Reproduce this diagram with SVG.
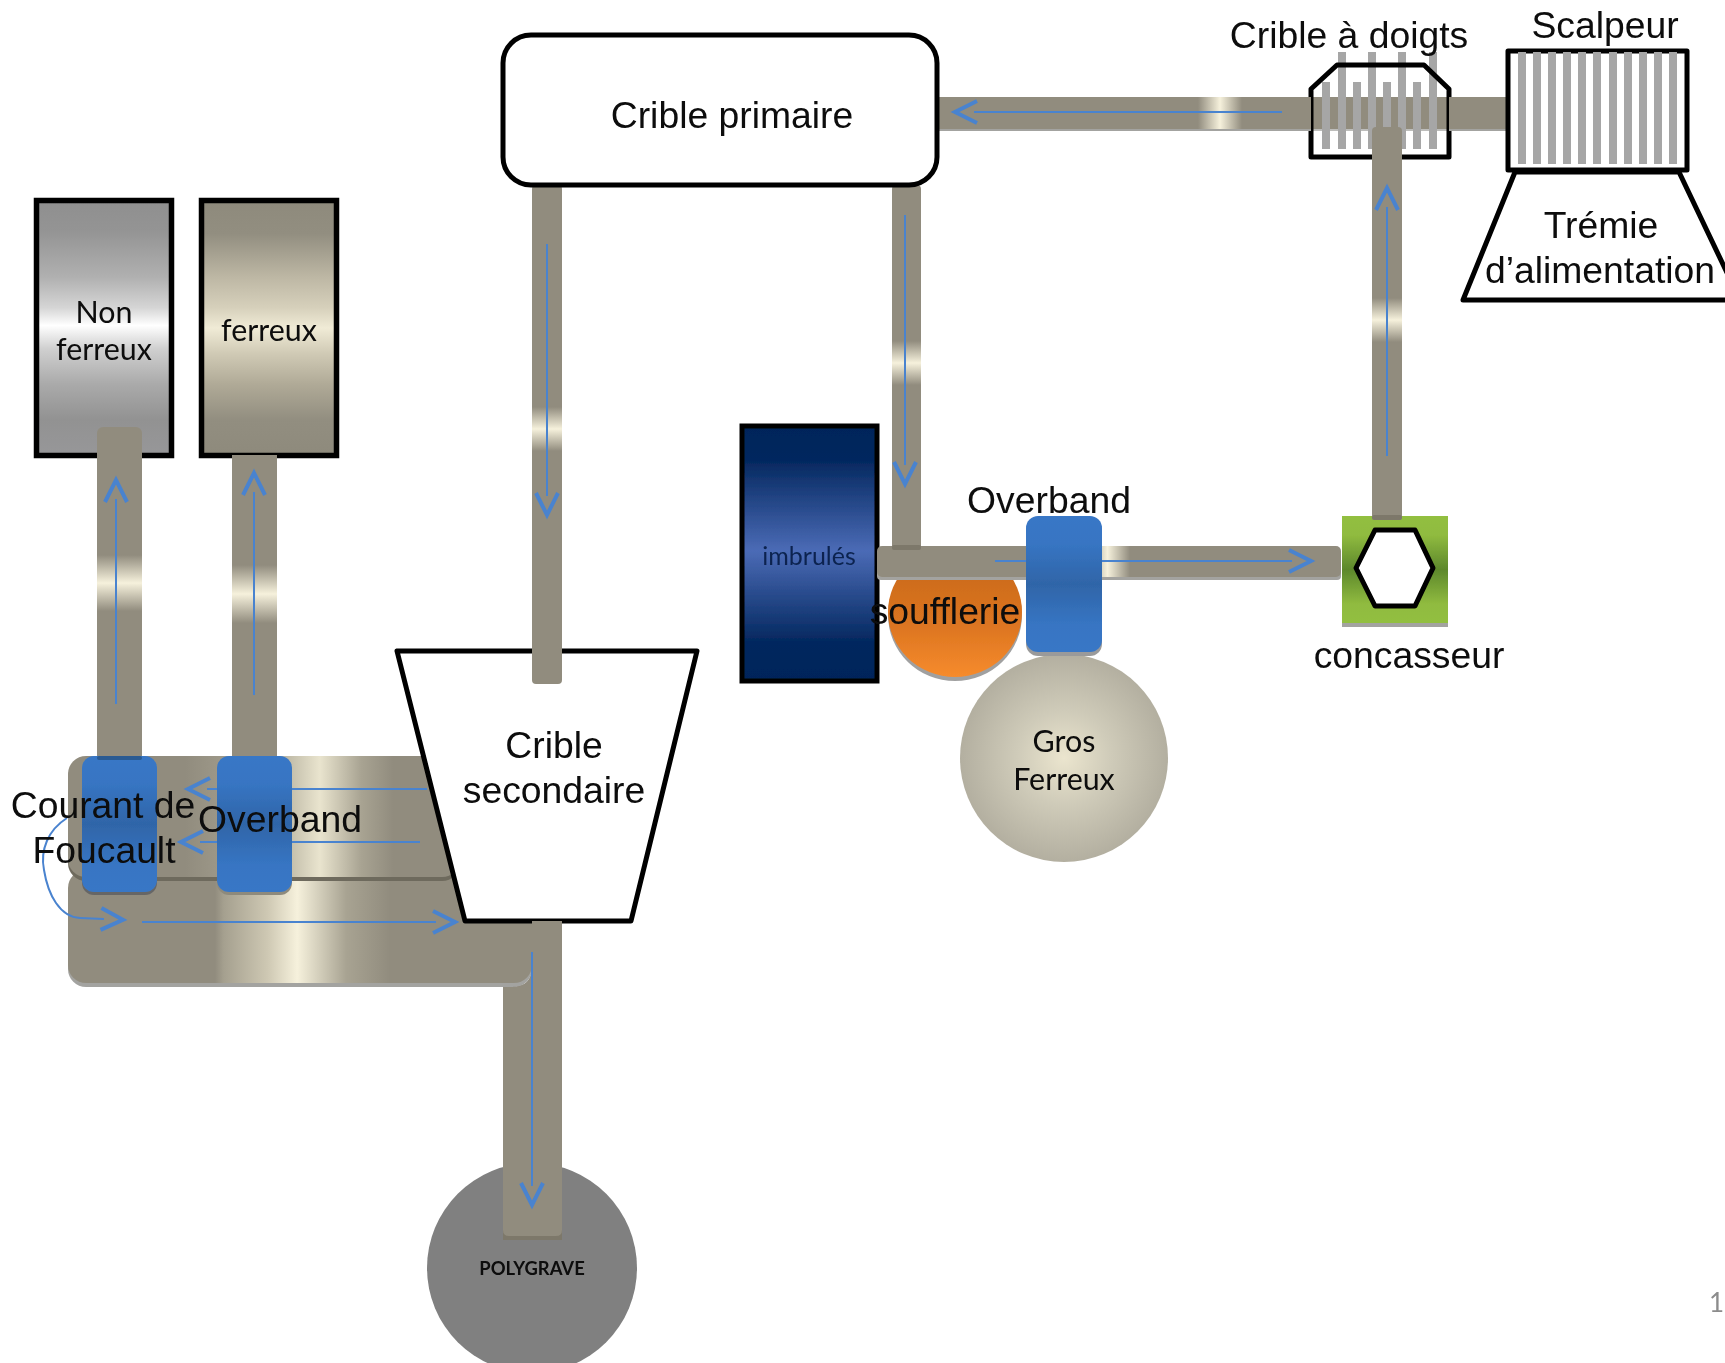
<svg xmlns="http://www.w3.org/2000/svg" width="1725" height="1363" viewBox="0 0 1725 1363">
<style>
text{font-family:"Liberation Sans",Arial,sans-serif;font-size:37.3px;fill:#0a0a0a;text-anchor:middle}
.cal{font-family:Lato,"Open Sans",sans-serif;font-size:30.4px}
.out{fill:#fff;stroke:#000;stroke-width:5;stroke-linejoin:round}
.bar{fill:#a6a6a6}
.belt{fill:#918c7e}
.shadow{fill:#a3a3a0}
.flow{fill:none;stroke:#4a83cf;stroke-width:2}
.chev{fill:none;stroke:#4a83cf;stroke-width:4}
</style>
<defs>
<filter id="soft" filterUnits="userSpaceOnUse" x="0" y="0" width="1725" height="1363"><feGaussianBlur stdDeviation="0.6"/></filter>
<marker id="arrow" markerUnits="userSpaceOnUse" markerWidth="60" markerHeight="40" refX="10" refY="20" orient="auto" overflow="visible"><path class="chev" d="M7 9L29 20L7 31"/></marker>
<linearGradient id="gSilver" x1="0" y1="0" x2="0" y2="1"><stop offset="0" stop-color="#8f8f8f"/><stop offset=".12" stop-color="#949494"/><stop offset=".3" stop-color="#b0b0b0"/><stop offset=".42" stop-color="#d5d5d5"/><stop offset=".49" stop-color="#fff"/><stop offset=".58" stop-color="#d0d0d0"/><stop offset=".72" stop-color="#aaa"/><stop offset=".86" stop-color="#929292"/><stop offset="1" stop-color="#979799"/></linearGradient>
<linearGradient id="gBronze" x1="0" y1="0" x2="0" y2="1"><stop offset="0" stop-color="#8e8a7c"/><stop offset=".13" stop-color="#928e80"/><stop offset=".3" stop-color="#bdb7a4"/><stop offset=".42" stop-color="#d6d0bb"/><stop offset=".5" stop-color="#f0ebd6"/><stop offset=".6" stop-color="#d0cab5"/><stop offset=".72" stop-color="#b0aa97"/><stop offset=".86" stop-color="#928e80"/><stop offset="1" stop-color="#8e8a7c"/></linearGradient>
<linearGradient id="gNavy" x1="0" y1="0" x2="0" y2="1"><stop offset="0" stop-color="#00245a"/><stop offset=".13" stop-color="#03275e"/><stop offset=".49" stop-color="#4b6bb6"/><stop offset=".85" stop-color="#03275e"/><stop offset="1" stop-color="#00245a"/></linearGradient>
<linearGradient id="gBlue" x1="0" y1="0" x2="0" y2="1"><stop offset="0" stop-color="#3977c6"/><stop offset=".2" stop-color="#3775c3"/><stop offset=".5" stop-color="#2f65a8"/><stop offset=".8" stop-color="#3775c3"/><stop offset="1" stop-color="#3977c6"/></linearGradient>
<linearGradient id="gOrange" x1="0" y1="0" x2="0" y2="1"><stop offset="0" stop-color="#c4661d"/><stop offset=".6" stop-color="#dc7520"/><stop offset="1" stop-color="#f68b2d"/></linearGradient>
<linearGradient id="gGreen" x1="0" y1="0" x2="0" y2="1"><stop offset="0" stop-color="#92bf3f"/><stop offset=".18" stop-color="#90bb3f"/><stop offset=".5" stop-color="#5d882c"/><stop offset=".82" stop-color="#90bb3f"/><stop offset="1" stop-color="#92bf3f"/></linearGradient>
<radialGradient id="gBeige"><stop offset="0" stop-color="#ebe5ce"/><stop offset=".45" stop-color="#cfcbb9"/><stop offset="1" stop-color="#b3afa0"/></radialGradient>
<linearGradient id="gUpper" gradientUnits="userSpaceOnUse" x1="185" y1="0" x2="430" y2="0"><stop offset="0" stop-color="#918c7e"/><stop offset=".2" stop-color="#a19c8c"/><stop offset=".4" stop-color="#bab5a2"/><stop offset=".55" stop-color="#e9e4ce"/><stop offset=".72" stop-color="#a8a392"/><stop offset=".85" stop-color="#918c7e"/><stop offset="1" stop-color="#918c7e"/></linearGradient>
<linearGradient id="gLower" gradientUnits="userSpaceOnUse" x1="215" y1="0" x2="390" y2="0"><stop offset="0" stop-color="#918c7e"/><stop offset=".05" stop-color="#a5a08f"/><stop offset=".3" stop-color="#cec8b3"/><stop offset=".47" stop-color="#f6f1dc"/><stop offset=".75" stop-color="#a8a392"/><stop offset="1" stop-color="#918c7e"/></linearGradient>
<linearGradient id="hTop" gradientUnits="userSpaceOnUse" x1="1198" y1="0" x2="1242" y2="0"><stop offset="0" stop-color="#918c7e"/><stop offset=".5" stop-color="#f6f1dc"/><stop offset="1" stop-color="#918c7e"/></linearGradient>
<linearGradient id="hMid" gradientUnits="userSpaceOnUse" x1="1085" y1="0" x2="1130" y2="0"><stop offset="0" stop-color="#918c7e"/><stop offset=".5" stop-color="#f6f1dc"/><stop offset="1" stop-color="#918c7e"/></linearGradient>
<linearGradient id="vCrush" gradientUnits="userSpaceOnUse" x1="0" y1="298" x2="0" y2="342"><stop offset="0" stop-color="#918c7e"/><stop offset=".5" stop-color="#f6f1dc"/><stop offset="1" stop-color="#918c7e"/></linearGradient>
<linearGradient id="vRight" gradientUnits="userSpaceOnUse" x1="0" y1="341" x2="0" y2="385"><stop offset="0" stop-color="#918c7e"/><stop offset=".5" stop-color="#f6f1dc"/><stop offset="1" stop-color="#918c7e"/></linearGradient>
<linearGradient id="vPrim" gradientUnits="userSpaceOnUse" x1="0" y1="407" x2="0" y2="451"><stop offset="0" stop-color="#918c7e"/><stop offset=".5" stop-color="#f6f1dc"/><stop offset="1" stop-color="#918c7e"/></linearGradient>
<linearGradient id="vL1" gradientUnits="userSpaceOnUse" x1="0" y1="555" x2="0" y2="611"><stop offset="0" stop-color="#918c7e"/><stop offset=".5" stop-color="#f6f1dc"/><stop offset="1" stop-color="#918c7e"/></linearGradient>
<linearGradient id="vL2" gradientUnits="userSpaceOnUse" x1="0" y1="565" x2="0" y2="623"><stop offset="0" stop-color="#918c7e"/><stop offset=".5" stop-color="#f6f1dc"/><stop offset="1" stop-color="#918c7e"/></linearGradient>
</defs>
<rect width="1725" height="1363" fill="#fff"/>
<g filter="url(#soft)">
<g id="polygrave"><circle cx="532" cy="1268" r="105" fill="#808080"/><text x="532" y="1275" style="font-family:Lato,'Open Sans',sans-serif;font-size:18.4px;font-weight:700">POLYGRAVE</text></g>
<g id="gros-ferreux"><circle cx="1064" cy="758" r="104" fill="url(#gBeige)"/><text class="cal" x="1064" y="752">Gros</text><text class="cal" x="1064" y="790">Ferreux</text></g>
<g id="imbrules"><rect x="742" y="426" width="135" height="255" fill="url(#gNavy)" stroke="#000" stroke-width="5"/><text class="cal" x="809" y="565" style="font-size:25px;fill:#0b2450">imbrulés</text></g>
<g id="soufflerie"><ellipse cx="955" cy="615" rx="67" ry="66" fill="#a0a0a0"/><ellipse cx="955" cy="612" rx="67" ry="65" fill="url(#gOrange)"/><text x="945" y="624">soufflerie</text></g>
<g id="non-ferreux"><rect x="36.500" y="200.500" width="135" height="255" fill="url(#gSilver)" stroke="#000" stroke-width="5.5"/><text class="cal" x="104" y="323">Non</text><text class="cal" x="104" y="360">ferreux</text></g>
<g id="ferreux"><rect x="201.500" y="200.500" width="135" height="255" fill="url(#gBronze)" stroke="#000" stroke-width="5.5"/><text class="cal" x="269" y="341">ferreux</text></g>
<g id="bandes">
<rect x="68" y="874" width="464" height="113" rx="18" fill="#a3a3a0"/>
<rect x="68" y="870" width="464" height="113" rx="18" fill="url(#gLower)"/>
<rect x="68" y="759" width="392" height="122" rx="18" fill="#6e6a5d"/>
<rect x="68" y="756" width="392" height="121" rx="18" fill="url(#gUpper)"/>
</g>
<g id="crible-secondaire"><polygon class="out" points="397,651 697,651 631,921 465,921"/><text x="554" y="758">Crible</text><text x="554" y="803">secondaire</text></g>
<g id="concasseur"><rect x="1342" y="519" width="106" height="108" fill="#a3a3a0"/><rect x="1342" y="516" width="106" height="107" fill="url(#gGreen)"/><polygon class="out" points="1356,568 1375,530 1415,530 1433,568 1415,606 1375,606"/><text x="1409" y="668">concasseur</text></g>
<g id="crible-a-doigts"><polygon points="1311,157 1311,89 1337,65 1424,65 1449,89 1449,157" fill="#fff"/><rect class="belt" x="1311" y="97" width="138" height="32"/><rect x="1311" y="129" width="138" height="2" fill="#bdbdbb"/>
<path class="bar" d="M1322 82h8v67h-8zM1338 52h8v97h-8zM1353 82h8v67h-8zM1368 52h8v97h-8zM1383 82h8v67h-8zM1398 52h8v97h-8zM1413 82h8v67h-8zM1429 52h8v97h-8z"/>
<polygon points="1311,157 1311,89 1337,65 1424,65 1449,89 1449,157" fill="none" stroke="#000" stroke-width="5" stroke-linejoin="round"/>
<text x="1349" y="48">Crible à doigts</text></g>
<g id="connectors">
<g id="belts">
<rect class="shadow" x="937" y="100" width="374" height="31"/><rect x="937" y="97" width="374" height="32" fill="url(#hTop)"/>
<rect class="shadow" x="1449" y="100" width="58" height="31"/><rect class="belt" x="1449" y="97" width="58" height="32"/>
<rect x="1372" y="127" width="30" height="392" rx="4" style="fill:url(#vCrush)"/>
<rect x="1372" y="515" width="30" height="5" rx="2" fill="#7d786a"/>
<rect x="892" y="185" width="29" height="365" rx="4" style="fill:url(#vRight)"/>
<rect class="shadow" x="877" y="550" width="464" height="30" rx="4"/><rect x="877" y="546" width="464" height="31" rx="5" style="fill:url(#hMid)"/>
<rect x="892" y="545" width="29" height="5" rx="2" fill="#7d786a"/>
<rect x="532" y="185" width="30" height="499" rx="4" style="fill:url(#vPrim)"/>
<rect x="97" y="427" width="45" height="335" rx="6" style="fill:url(#vL1)"/>
<rect x="232" y="455" width="45" height="307" style="fill:url(#vL2)"/>
<path d="M532 921H562V1240H503V987H512Q532 987 532 967Z" fill="#7d786a"/>
<path class="belt" d="M532 921H562V1230Q562 1236 556 1236H509Q503 1236 503 1230V987H512Q532 987 532 967Z"/>
</g>
<g id="flows">
<path class="flow" marker-end="url(#arrow)" d="M1282 112H974"/>
<path class="flow" marker-end="url(#arrow)" d="M1387 456V207"/>
<path class="flow" marker-end="url(#arrow)" d="M905 215V465"/>
<path class="flow" marker-end="url(#arrow)" d="M547 244V496"/>
<path class="flow" marker-end="url(#arrow)" d="M995 561H1292"/>
<path class="flow" marker-end="url(#arrow)" d="M116 704V499"/>
<path class="flow" marker-end="url(#arrow)" d="M254 695V492"/>
<path class="flow" marker-end="url(#arrow)" d="M427 789H207"/>
<path class="flow" marker-end="url(#arrow)" d="M420 842H200"/>
<path class="flow" marker-end="url(#arrow)" d="M142 922H436"/>
<path class="flow" marker-end="url(#arrow)" d="M67 818C48 830 40 850 44 870C48 895 60 917 80 918L104 919"/>
<path class="flow" marker-end="url(#arrow)" d="M532 952V1186"/>
</g>
</g>
<g id="overband-centre"><rect x="1026" y="520" width="76" height="136" rx="12" fill="#9a9a9a"/><rect x="1026" y="516" width="76" height="136" rx="12" fill="url(#gBlue)"/><text x="1049" y="513">Overband</text></g>
<g id="courant-de-foucault"><rect x="82" y="759" width="75" height="136" rx="12" fill="#666"/><rect x="82" y="756" width="75" height="136" rx="12" fill="url(#gBlue)"/><rect x="97" y="756" width="45" height="4" rx="2" fill="#2a5a92"/><text x="103" y="818">Courant de</text><text x="104" y="863">Foucault</text></g>
<g id="overband-gauche"><rect x="217" y="759" width="75" height="136" rx="12" fill="#8e8a7c"/><rect x="217" y="756" width="75" height="136" rx="12" fill="url(#gBlue)"/><text x="280" y="832">Overband</text></g>
<g id="crible-primaire"><rect class="out" x="503" y="35" width="434" height="150" rx="28"/><text x="732" y="128">Crible primaire</text></g>
<g id="scalpeur"><rect class="out" x="1508" y="51" width="179" height="119"/>
<path class="bar" d="M1518 52h8v112h-8zM1533 52h8v112h-8zM1548 52h8v112h-8zM1563 52h8v112h-8zM1578 52h8v112h-8zM1593 52h8v112h-8zM1609 52h8v112h-8zM1624 52h8v112h-8zM1639 52h8v112h-8zM1654 52h8v112h-8zM1669 52h8v112h-8z"/>
<text x="1605" y="38">Scalpeur</text></g>
<g id="tremie"><polygon class="out" points="1515,172 1679,172 1740,300 1463,300"/><text x="1601" y="238">Trémie</text><text x="1600" y="283">d’alimentation</text></g>
<text x="1724" y="1312" style="font-family:Lato,'Open Sans',sans-serif;font-size:26px;fill:#8c8c8c;text-anchor:end">1</text>
</g>
</svg>
